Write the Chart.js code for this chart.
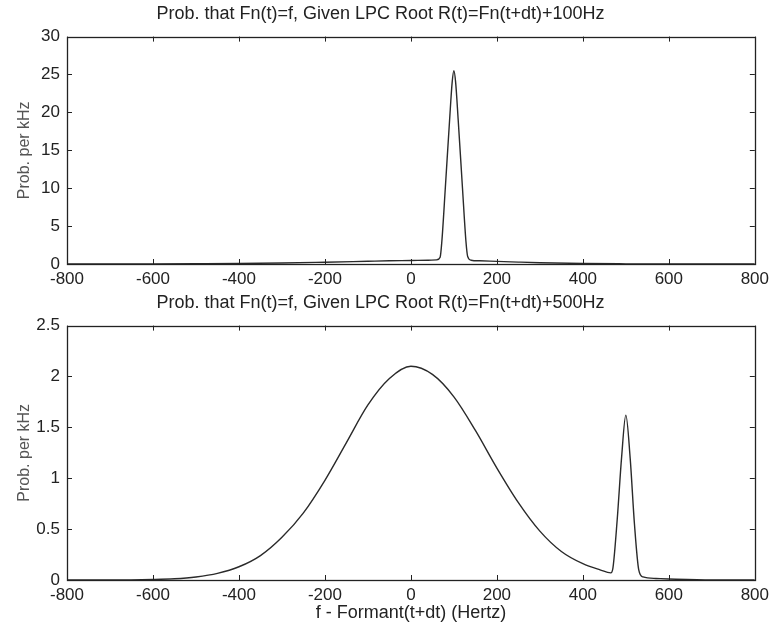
<!DOCTYPE html>
<html>
<head>
<meta charset="utf-8">
<script src="https://cdn.jsdelivr.net/npm/chart.js@4.4.1/dist/chart.umd.min.js"></script>
<style>
  html,body{margin:0;padding:0;background:#fff;}
  #wrap{position:relative;width:774px;height:629px;overflow:hidden;}
  #c1{position:absolute;left:0;top:0;}
  #c2{position:absolute;left:0;top:290px;}
</style>
</head>
<body>
<div id="wrap">
  <canvas id="c1" width="774" height="300"></canvas>
  <canvas id="c2" width="774" height="339"></canvas>
</div>
<script>
// frequency offsets (Hz) and probability per kHz
const freqTop=[-800,-700,-600,-500,-400,-300,-200,-100,-50,0,40,60,68,72,80,90,96,100,104,110,120,128,132,140,160,200,250,300,400,500,600,700,800];
const probTop=[0,0,0.01,0.03,0.06,0.13,0.24,0.36,0.42,0.46,0.5,0.55,0.9,3,10,19,24,25.5,24,19,10,3,1,0.5,0.42,0.34,0.25,0.17,0.06,0.02,0,0,0];

const freqBottom=[-800,-700,-600,-550,-500,-450,-400,-350,-300,-250,-200,-150,-100,-50,0,50,100,150,200,250,300,350,400,440,465,470,480,490,500,510,520,530,540,570,600,700,800];
const probBottom=[0,0,0.005,0.012,0.03,0.065,0.13,0.24,0.42,0.66,0.98,1.35,1.72,1.98,2.1,2.02,1.8,1.47,1.1,0.76,0.48,0.28,0.16,0.1,0.07,0.12,0.6,1.2,1.62,1.2,0.55,0.1,0.03,0.015,0.01,0,0];

const xTicks=[-800,-600,-400,-200,0,200,400,600,800];
const yTicksTop=[0,5,10,15,20,25,30];
const yTicksBottom=[0,0.5,1,1.5,2,2.5];

const FONT='"Liberation Sans", Arial, sans-serif';
const INK='#222';

// matlab style box with inward ticks
const boxTicks={
  id:'boxTicks',
  afterDraw(chart){
    const {ctx,chartArea:a,scales}=chart;
    ctx.save();
    ctx.strokeStyle=INK;
    ctx.lineWidth=1;
    ctx.beginPath();
    scales.x.ticks.forEach(t=>{
      const px=Math.round(scales.x.getPixelForValue(t.value))+0.5;
      ctx.moveTo(px,a.bottom);ctx.lineTo(px,a.bottom-5);
      ctx.moveTo(px,a.top);ctx.lineTo(px,a.top+5);
    });
    scales.y.ticks.forEach(t=>{
      const py=Math.round(scales.y.getPixelForValue(t.value))+0.5;
      ctx.moveTo(a.left,py);ctx.lineTo(a.left+5,py);
      ctx.moveTo(a.right,py);ctx.lineTo(a.right-5,py);
    });
    ctx.stroke();
    ctx.lineWidth=1.3;
    ctx.strokeRect(Math.round(a.left)+0.5,Math.round(a.top)+0.5,Math.round(a.right-a.left),Math.round(a.bottom-a.top));
    ctx.restore();
  }
};

function makeChart(id,freq,prob,yMax,yTicks,titleText,xTitle,xHeight,titlePad){
  const pts=freq.map((f,i)=>({x:f,y:prob[i]}));
  return new Chart(document.getElementById(id),{
    type:'line',
    data:{datasets:[{
      data:pts,
      borderColor:'#2a2a2a',
      borderWidth:1.4,
      pointRadius:0,
      tension:0.3,
      cubicInterpolationMode:'monotone',
      fill:false
    }]},
    options:{
      responsive:false,
      animation:false,
      layout:{padding:{left:0,right:13,top:0,bottom:0}},
      plugins:{
        legend:{display:false},
        tooltip:{enabled:false},
        title:{display:true,text:titleText,color:INK,
          font:{family:FONT,size:18,weight:'normal'},padding:titlePad}
      },
      scales:{
        x:{
          type:'linear',min:-800,max:800,
          afterBuildTicks:s=>{s.ticks=xTicks.map(v=>({value:v}));},
          grid:{display:false,drawTicks:false},
          border:{display:false},
          ticks:{color:INK,font:{family:FONT,size:17},padding:5,maxRotation:0,callback:v=>String(v)},
          title:{display:!!xTitle,text:xTitle||'',color:INK,font:{family:FONT,size:18},padding:{top:1,bottom:5}},
          afterFit:s=>{s.height=xHeight;}
        },
        y:{
          min:0,max:yMax,
          afterBuildTicks:s=>{s.ticks=yTicks.map(v=>({value:v}));},
          grid:{display:false,drawTicks:false},
          border:{display:false},
          ticks:{color:INK,font:{family:FONT,size:17},padding:7,callback:v=>String(v)},
          title:{display:true,text:'Prob. per kHz',color:'#555',font:{family:FONT,size:16},padding:{top:15,bottom:4}},
          afterFit:s=>{s.width=67;}
        }
      }
    },
    plugins:[boxTicks]
  });
}

makeChart('c1',freqTop,probTop,30,yTicksTop,
  'Prob. that Fn(t)=f, Given LPC Root R(t)=Fn(t+dt)+100Hz',null,36,{top:3,bottom:12});
makeChart('c2',freqBottom,probBottom,2.5,yTicksBottom,
  'Prob. that Fn(t)=f, Given LPC Root R(t)=Fn(t+dt)+500Hz','f - Formant(t+dt) (Hertz)',49,{top:2,bottom:12});
</script>
</body>
</html>
